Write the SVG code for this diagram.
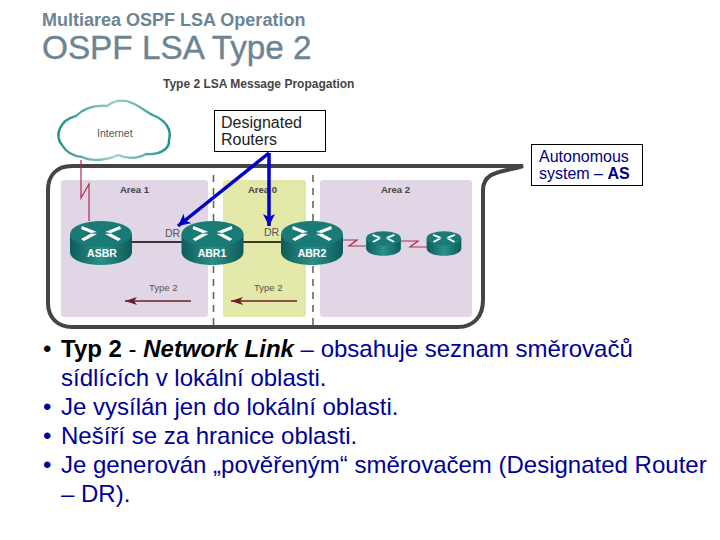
<svg xmlns="http://www.w3.org/2000/svg" width="720" height="540" viewBox="0 0 720 540">
<style>
text{font-family:"Liberation Sans",Arial,sans-serif}
.lab{font-size:10.5px;fill:#555}
.ty{font-size:9.500px;fill:#555}
.ar{font-size:9.5px;fill:#444;font-weight:bold}
.rn{font-size:10.5px;fill:#fff;font-weight:bold;text-anchor:middle}
.body{font-size:24px;fill:#000099}
.box{fill:#fff;stroke:#000;stroke-width:1}
.dash{stroke:#666;stroke-width:1.6;stroke-dasharray:7 6;fill:none}
.serial{stroke:#b02a50;stroke-width:1.2;fill:none}
.blue{stroke:#0000cc;stroke-width:3.500;fill:none;marker-end:url(#ba)}
.t2{stroke:#6b1f2a;stroke-width:1.6;fill:none;marker-end:url(#ra)}
</style>
<defs>
<linearGradient id="rg" x1="0" x2="1" y1="0" y2="0"><stop offset="0" stop-color="#0e5c5c"/><stop offset=".5" stop-color="#2a9088"/><stop offset="1" stop-color="#0e5c5c"/></linearGradient>
<linearGradient id="cg" x1="0" x2="1" y1="0" y2="0"><stop offset="0" stop-color="#1f8f8c"/><stop offset=".5" stop-color="#9fd0cc"/><stop offset="1" stop-color="#1f8f8c"/></linearGradient>
<marker id="ba" markerUnits="userSpaceOnUse" markerWidth="14" markerHeight="14" refX="12" refY="6" orient="auto"><path d="M0 0L12 6L0 12L3 6Z" fill="#0000cc"/></marker>
<marker id="ra" markerUnits="userSpaceOnUse" markerWidth="14" markerHeight="10" refX="12" refY="4" orient="auto"><path d="M0 0L12 4L0 8L3 4Z" fill="#6b1f2a"/></marker>
<g id="rt"><path d="M-31 -9V9C-31 17 -17 22 0 22S31 17 31 9V-9Z" fill="url(#rg)"/><ellipse cx="0" cy="-9" rx="31" ry="13" fill="#1a7a76"/><path fill="#fff" d="M-19 -17L-4 -11L-10 -10L-20 -14ZM-20 -4L-10 -9.500L-4 -9L-17 -2ZM19 -17L4 -11L10 -10L20 -14ZM20 -4L10 -9.500L4 -9L17 -2Z"/></g>
</defs>
<rect width="720" height="540" fill="#fff"/>
<text x="42" y="26" font-size="18" font-weight="bold" fill="#6d8494">Multiarea OSPF LSA Operation</text>
<text x="42" y="59" font-size="33.300" fill="#6d8494" stroke="#6d8494" stroke-width=".4">OSPF LSA Type 2</text>
<text x="163" y="88" font-size="12" font-weight="bold" fill="#444">Type 2 LSA Message Propagation</text>
<rect x="61" y="180" width="147" height="137" rx="3" fill="#e0d6e6"/>
<rect x="223" y="180" width="83" height="137" rx="3" fill="#e4e8a8"/>
<rect x="320" y="180" width="152" height="137" rx="3" fill="#e0d6e6"/>
<text class="ar" x="120" y="193">Area 1</text>
<text class="ar" x="248" y="193">Area 0</text>
<text class="ar" x="381" y="193">Area 2</text>
<path class="dash" d="M213.500 175V327M313 175V327"/>
<path d="M523 166H72C56 166 48 176 48 190V303C48 318 58 327 72 327H458C474 327 483 316 483 300V190C483 170 505 172 523 166Z" fill="none" stroke="#444" stroke-width="4"/>
<g id="connectors">
<path class="serial" d="M81 160V198L89 184V221"/>
<path class="serial" d="M343 240H357L349 246H366M401 241H418L410 247H427"/>
<path d="M132 242H182M243 242H281" stroke="#000" stroke-width="1.6" fill="none"/>
<path class="blue" d="M269 153L178 226"/>
<path class="blue" d="M269 153V226"/>
<path class="t2" d="M191 301H125"/>
<path class="t2" d="M297 301H231"/>
</g>
<g id="internet"><path d="M62 145C54 135 60 120 76 116C84 108 95 105 107 106C114 100 125 99 132 103C140 106 147 113 155 116C166 121 172 130 169 140C170 150 158 155 146 154C135 160 125 158 118 155C108 160 92 162 82 157C72 156 66 152 62 145Z" fill="#fff" stroke="url(#cg)" stroke-width="2.4"/><text class="lab" x="97" y="137">Internet</text></g>
<g id="asbr"><use href="#rt" x="101" y="243"/><text class="rn" x="102" y="257">ASBR</text></g>
<g id="abr1"><use href="#rt" x="212.500" y="243"/><text class="rn" x="212" y="257">ABR1</text></g>
<g id="abr2"><use href="#rt" x="312" y="243"/><text class="rn" x="312" y="257">ABR2</text></g>
<g id="r1"><use href="#rt" transform="translate(383.500 243.500) scale(.56)"/></g>
<g id="r2"><use href="#rt" transform="translate(444 243.500) scale(.56)"/></g>
<text class="lab" x="165" y="237">DR</text>
<text class="lab" x="264" y="236">DR</text>
<text class="ty" x="149" y="291">Type 2</text>
<text class="ty" x="254" y="291">Type 2</text>
<g id="designated"><rect class="box" x="214.500" y="110.500" width="111" height="41"/><text x="221" y="128" font-size="16" fill="#222">Designated</text><text x="221" y="145" font-size="16" fill="#222">Routers</text></g>
<g id="as"><rect class="box" x="531.500" y="144.500" width="111" height="41"/><text x="539" y="162" font-size="16" fill="#000080">Autonomous</text><text x="539" y="179" font-size="16" fill="#000080">system – <tspan font-weight="bold">AS</tspan></text></g>
<g class="body">
<text class="body" x="43" y="357" style="fill:#000">•</text>
<text class="body" x="61" y="357"><tspan font-weight="bold" style="fill:#000">Typ 2 </tspan><tspan style="fill:#000">- </tspan><tspan font-weight="bold" font-style="italic" style="fill:#000">Network Link</tspan> – obsahuje seznam směrovačů</text>
<text class="body" x="61" y="386">sídlících v lokální oblasti.</text>
<text class="body" x="43" y="415">•</text>
<text class="body" x="61" y="415">Je vysílán jen do lokální oblasti.</text>
<text class="body" x="43" y="444">•</text>
<text class="body" x="61" y="444">Nešíří se za hranice oblasti.</text>
<text class="body" x="43" y="473">•</text>
<text class="body" x="61" y="473">Je generován „pověřeným“ směrovačem (Designated Router</text>
<text class="body" x="61" y="502">– DR).</text>
</g>
</svg>
